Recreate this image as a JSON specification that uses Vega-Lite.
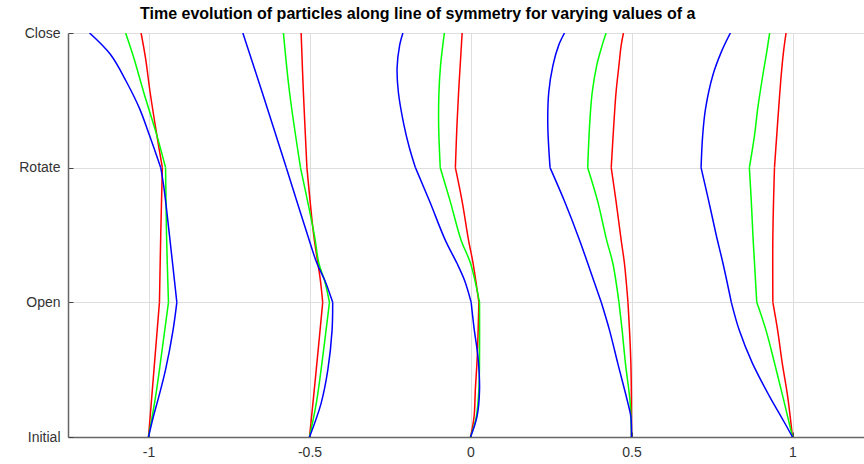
{
  "$schema": "https://vega.github.io/schema/vega-lite/v6.json",
  "autosize": "none",
  "width": 796,
  "height": 404,
  "padding": {"left": 68, "top": 33, "right": 0, "bottom": 27},
  "title": {"text": "Time evolution of particles along line of symmetry for varying values of a", "fontSize": 16, "font": "Liberation Sans", "fontWeight": "bold", "anchor": "start", "frame": "group", "dx": 72, "offset": 4, "color": "#000000"},
  "config": {"view": {"stroke": null}, "background": "white"},
  "data": {"values": [
    {"a": -1, "c": "r", "s": 1, "y": 0, "x": -1.0}, {"a": -1, "c": "r", "s": 1, "y": 0.5, "x": -0.983}, {"a": -1, "c": "r", "s": 1, "y": 1, "x": -0.966},
    {"a": -1, "c": "r", "s": 2, "y": 1, "x": -0.966}, {"a": -1, "c": "r", "s": 2, "y": 1.5, "x": -0.962}, {"a": -1, "c": "r", "s": 2, "y": 2, "x": -0.957},
    {"a": -1, "c": "r", "s": 3, "y": 2, "x": -0.957}, {"a": -1, "c": "r", "s": 3, "y": 2.24, "x": -0.974}, {"a": -1, "c": "r", "s": 3, "y": 2.56, "x": -0.995}, {"a": -1, "c": "r", "s": 3, "y": 2.81, "x": -1.009}, {"a": -1, "c": "r", "s": 3, "y": 3, "x": -1.023},
    {"a": -1, "c": "g", "s": 1, "y": 0, "x": -1.0}, {"a": -1, "c": "g", "s": 1, "y": 0.3, "x": -0.978}, {"a": -1, "c": "g", "s": 1, "y": 0.5, "x": -0.966}, {"a": -1, "c": "g", "s": 1, "y": 0.75, "x": -0.952}, {"a": -1, "c": "g", "s": 1, "y": 1, "x": -0.938},
    {"a": -1, "c": "g", "s": 2, "y": 1, "x": -0.938}, {"a": -1, "c": "g", "s": 2, "y": 1.5, "x": -0.944}, {"a": -1, "c": "g", "s": 2, "y": 2, "x": -0.947},
    {"a": -1, "c": "g", "s": 3, "y": 2, "x": -0.947}, {"a": -1, "c": "g", "s": 3, "y": 2.24, "x": -0.974}, {"a": -1, "c": "g", "s": 3, "y": 2.56, "x": -1.015}, {"a": -1, "c": "g", "s": 3, "y": 2.81, "x": -1.045}, {"a": -1, "c": "g", "s": 3, "y": 3, "x": -1.071},
    {"a": -1, "c": "b", "s": 1, "y": 0, "x": -1.0}, {"a": -1, "c": "b", "s": 1, "y": 0.15, "x": -0.985}, {"a": -1, "c": "b", "s": 1, "y": 0.3, "x": -0.968}, {"a": -1, "c": "b", "s": 1, "y": 0.5, "x": -0.947}, {"a": -1, "c": "b", "s": 1, "y": 0.79, "x": -0.924}, {"a": -1, "c": "b", "s": 1, "y": 1, "x": -0.912},
    {"a": -1, "c": "b", "s": 2, "y": 1, "x": -0.912}, {"a": -1, "c": "b", "s": 2, "y": 1.5, "x": -0.935}, {"a": -1, "c": "b", "s": 2, "y": 1.85, "x": -0.952}, {"a": -1, "c": "b", "s": 2, "y": 2, "x": -0.962},
    {"a": -1, "c": "b", "s": 3, "y": 2, "x": -0.962}, {"a": -1, "c": "b", "s": 3, "y": 2.24, "x": -0.997}, {"a": -1, "c": "b", "s": 3, "y": 2.44, "x": -1.028}, {"a": -1, "c": "b", "s": 3, "y": 2.64, "x": -1.069}, {"a": -1, "c": "b", "s": 3, "y": 2.84, "x": -1.118}, {"a": -1, "c": "b", "s": 3, "y": 3, "x": -1.183},
    {"a": -0.5, "c": "r", "s": 1, "y": 0, "x": -0.5}, {"a": -0.5, "c": "r", "s": 1, "y": 0.5, "x": -0.479}, {"a": -0.5, "c": "r", "s": 1, "y": 1, "x": -0.459},
    {"a": -0.5, "c": "r", "s": 2, "y": 1, "x": -0.459}, {"a": -0.5, "c": "r", "s": 2, "y": 1.16, "x": -0.466}, {"a": -0.5, "c": "r", "s": 2, "y": 1.29, "x": -0.474}, {"a": -0.5, "c": "r", "s": 2, "y": 1.5, "x": -0.487}, {"a": -0.5, "c": "r", "s": 2, "y": 2, "x": -0.508},
    {"a": -0.5, "c": "r", "s": 3, "y": 2, "x": -0.508}, {"a": -0.5, "c": "r", "s": 3, "y": 2.56, "x": -0.519}, {"a": -0.5, "c": "r", "s": 3, "y": 3, "x": -0.526},
    {"a": -0.5, "c": "g", "s": 1, "y": 0, "x": -0.5}, {"a": -0.5, "c": "g", "s": 1, "y": 0.25, "x": -0.479}, {"a": -0.5, "c": "g", "s": 1, "y": 0.5, "x": -0.464}, {"a": -0.5, "c": "g", "s": 1, "y": 1, "x": -0.438},
    {"a": -0.5, "c": "g", "s": 2, "y": 1, "x": -0.438}, {"a": -0.5, "c": "g", "s": 2, "y": 1.16, "x": -0.453}, {"a": -0.5, "c": "g", "s": 2, "y": 1.29, "x": -0.471}, {"a": -0.5, "c": "g", "s": 2, "y": 1.5, "x": -0.485}, {"a": -0.5, "c": "g", "s": 2, "y": 2, "x": -0.528},
    {"a": -0.5, "c": "g", "s": 3, "y": 2, "x": -0.528}, {"a": -0.5, "c": "g", "s": 3, "y": 2.56, "x": -0.562}, {"a": -0.5, "c": "g", "s": 3, "y": 3, "x": -0.581},
    {"a": -0.5, "c": "b", "s": 1, "y": 0, "x": -0.5}, {"a": -0.5, "c": "b", "s": 1, "y": 0.25, "x": -0.464}, {"a": -0.5, "c": "b", "s": 1, "y": 0.5, "x": -0.443}, {"a": -0.5, "c": "b", "s": 1, "y": 0.79, "x": -0.43}, {"a": -0.5, "c": "b", "s": 1, "y": 1, "x": -0.428},
    {"a": -0.5, "c": "b", "s": 2, "y": 1, "x": -0.428}, {"a": -0.5, "c": "b", "s": 2, "y": 1.16, "x": -0.452}, {"a": -0.5, "c": "b", "s": 2, "y": 1.29, "x": -0.477}, {"a": -0.5, "c": "b", "s": 2, "y": 1.5, "x": -0.506}, {"a": -0.5, "c": "b", "s": 2, "y": 2, "x": -0.572},
    {"a": -0.5, "c": "b", "s": 3, "y": 2, "x": -0.572}, {"a": -0.5, "c": "b", "s": 3, "y": 2.56, "x": -0.647}, {"a": -0.5, "c": "b", "s": 3, "y": 3, "x": -0.707},
    {"a": 0, "c": "r", "s": 1, "y": 0, "x": 0.0}, {"a": 0, "c": "r", "s": 1, "y": 0.15, "x": 0.011}, {"a": 0, "c": "r", "s": 1, "y": 0.35, "x": 0.015}, {"a": 0, "c": "r", "s": 1, "y": 0.6, "x": 0.021}, {"a": 0, "c": "r", "s": 1, "y": 1, "x": 0.026},
    {"a": 0, "c": "r", "s": 2, "y": 1, "x": 0.026}, {"a": 0, "c": "r", "s": 2, "y": 1.29, "x": 0.008}, {"a": 0, "c": "r", "s": 2, "y": 1.46, "x": -0.006}, {"a": 0, "c": "r", "s": 2, "y": 1.75, "x": -0.026}, {"a": 0, "c": "r", "s": 2, "y": 2, "x": -0.047},
    {"a": 0, "c": "r", "s": 3, "y": 2, "x": -0.047}, {"a": 0, "c": "r", "s": 3, "y": 2.32, "x": -0.042}, {"a": 0, "c": "r", "s": 3, "y": 2.56, "x": -0.037}, {"a": 0, "c": "r", "s": 3, "y": 2.76, "x": -0.032}, {"a": 0, "c": "r", "s": 3, "y": 3, "x": -0.026},
    {"a": 0, "c": "g", "s": 1, "y": 0, "x": 0.0}, {"a": 0, "c": "g", "s": 1, "y": 0.15, "x": 0.018}, {"a": 0, "c": "g", "s": 1, "y": 0.35, "x": 0.026}, {"a": 0, "c": "g", "s": 1, "y": 0.6, "x": 0.028}, {"a": 0, "c": "g", "s": 1, "y": 1, "x": 0.028},
    {"a": 0, "c": "g", "s": 2, "y": 1, "x": 0.028}, {"a": 0, "c": "g", "s": 2, "y": 1.29, "x": 0.0}, {"a": 0, "c": "g", "s": 2, "y": 1.46, "x": -0.029}, {"a": 0, "c": "g", "s": 2, "y": 1.75, "x": -0.063}, {"a": 0, "c": "g", "s": 2, "y": 2, "x": -0.094},
    {"a": 0, "c": "g", "s": 3, "y": 2, "x": -0.094}, {"a": 0, "c": "g", "s": 3, "y": 2.32, "x": -0.099}, {"a": 0, "c": "g", "s": 3, "y": 2.56, "x": -0.098}, {"a": 0, "c": "g", "s": 3, "y": 2.76, "x": -0.093}, {"a": 0, "c": "g", "s": 3, "y": 2.91, "x": -0.086}, {"a": 0, "c": "g", "s": 3, "y": 3, "x": -0.081},
    {"a": 0, "c": "b", "s": 1, "y": 0, "x": 0.0}, {"a": 0, "c": "b", "s": 1, "y": 0.15, "x": 0.02}, {"a": 0, "c": "b", "s": 1, "y": 0.35, "x": 0.028}, {"a": 0, "c": "b", "s": 1, "y": 0.6, "x": 0.023}, {"a": 0, "c": "b", "s": 1, "y": 0.79, "x": 0.012}, {"a": 0, "c": "b", "s": 1, "y": 1, "x": 0.002},
    {"a": 0, "c": "b", "s": 2, "y": 1, "x": 0.002}, {"a": 0, "c": "b", "s": 2, "y": 1.16, "x": -0.018}, {"a": 0, "c": "b", "s": 2, "y": 1.29, "x": -0.042}, {"a": 0, "c": "b", "s": 2, "y": 1.46, "x": -0.078}, {"a": 0, "c": "b", "s": 2, "y": 1.75, "x": -0.127}, {"a": 0, "c": "b", "s": 2, "y": 2, "x": -0.171},
    {"a": 0, "c": "b", "s": 3, "y": 2, "x": -0.171}, {"a": 0, "c": "b", "s": 3, "y": 2.15, "x": -0.19}, {"a": 0, "c": "b", "s": 3, "y": 2.32, "x": -0.207}, {"a": 0, "c": "b", "s": 3, "y": 2.56, "x": -0.224}, {"a": 0, "c": "b", "s": 3, "y": 2.74, "x": -0.228}, {"a": 0, "c": "b", "s": 3, "y": 2.91, "x": -0.22}, {"a": 0, "c": "b", "s": 3, "y": 3, "x": -0.21},
    {"a": 0.5, "c": "r", "s": 1, "y": 0, "x": 0.5}, {"a": 0.5, "c": "r", "s": 1, "y": 0.55, "x": 0.498}, {"a": 0.5, "c": "r", "s": 1, "y": 1, "x": 0.489},
    {"a": 0.5, "c": "r", "s": 2, "y": 1, "x": 0.489}, {"a": 0.5, "c": "r", "s": 2, "y": 1.29, "x": 0.478}, {"a": 0.5, "c": "r", "s": 2, "y": 1.46, "x": 0.468}, {"a": 0.5, "c": "r", "s": 2, "y": 1.75, "x": 0.452}, {"a": 0.5, "c": "r", "s": 2, "y": 2, "x": 0.437},
    {"a": 0.5, "c": "r", "s": 3, "y": 2, "x": 0.437}, {"a": 0.5, "c": "r", "s": 3, "y": 2.32, "x": 0.445}, {"a": 0.5, "c": "r", "s": 3, "y": 2.56, "x": 0.452}, {"a": 0.5, "c": "r", "s": 3, "y": 2.76, "x": 0.461}, {"a": 0.5, "c": "r", "s": 3, "y": 2.91, "x": 0.468}, {"a": 0.5, "c": "r", "s": 3, "y": 3, "x": 0.475},
    {"a": 0.5, "c": "g", "s": 1, "y": 0, "x": 0.5}, {"a": 0.5, "c": "g", "s": 1, "y": 0.25, "x": 0.496}, {"a": 0.5, "c": "g", "s": 1, "y": 0.55, "x": 0.481}, {"a": 0.5, "c": "g", "s": 1, "y": 0.79, "x": 0.471}, {"a": 0.5, "c": "g", "s": 1, "y": 1, "x": 0.461},
    {"a": 0.5, "c": "g", "s": 2, "y": 1, "x": 0.461}, {"a": 0.5, "c": "g", "s": 2, "y": 1.29, "x": 0.442}, {"a": 0.5, "c": "g", "s": 2, "y": 1.46, "x": 0.423}, {"a": 0.5, "c": "g", "s": 2, "y": 1.75, "x": 0.395}, {"a": 0.5, "c": "g", "s": 2, "y": 2, "x": 0.364},
    {"a": 0.5, "c": "g", "s": 3, "y": 2, "x": 0.364}, {"a": 0.5, "c": "g", "s": 3, "y": 2.32, "x": 0.37}, {"a": 0.5, "c": "g", "s": 3, "y": 2.56, "x": 0.378}, {"a": 0.5, "c": "g", "s": 3, "y": 2.76, "x": 0.392}, {"a": 0.5, "c": "g", "s": 3, "y": 2.91, "x": 0.409}, {"a": 0.5, "c": "g", "s": 3, "y": 3, "x": 0.421},
    {"a": 0.5, "c": "b", "s": 1, "y": 0, "x": 0.5}, {"a": 0.5, "c": "b", "s": 1, "y": 0.15, "x": 0.498}, {"a": 0.5, "c": "b", "s": 1, "y": 0.25, "x": 0.489}, {"a": 0.5, "c": "b", "s": 1, "y": 0.55, "x": 0.457}, {"a": 0.5, "c": "b", "s": 1, "y": 0.79, "x": 0.432}, {"a": 0.5, "c": "b", "s": 1, "y": 1, "x": 0.406},
    {"a": 0.5, "c": "b", "s": 2, "y": 1, "x": 0.406}, {"a": 0.5, "c": "b", "s": 2, "y": 1.29, "x": 0.364}, {"a": 0.5, "c": "b", "s": 2, "y": 1.46, "x": 0.339}, {"a": 0.5, "c": "b", "s": 2, "y": 1.75, "x": 0.292}, {"a": 0.5, "c": "b", "s": 2, "y": 2, "x": 0.247},
    {"a": 0.5, "c": "b", "s": 3, "y": 2, "x": 0.247}, {"a": 0.5, "c": "b", "s": 3, "y": 2.32, "x": 0.24}, {"a": 0.5, "c": "b", "s": 3, "y": 2.56, "x": 0.243}, {"a": 0.5, "c": "b", "s": 3, "y": 2.76, "x": 0.256}, {"a": 0.5, "c": "b", "s": 3, "y": 2.91, "x": 0.274}, {"a": 0.5, "c": "b", "s": 3, "y": 3, "x": 0.292},
    {"a": 1, "c": "r", "s": 1, "y": 0, "x": 1.0}, {"a": 1, "c": "r", "s": 1, "y": 0.3, "x": 0.985}, {"a": 1, "c": "r", "s": 1, "y": 0.55, "x": 0.968}, {"a": 1, "c": "r", "s": 1, "y": 0.79, "x": 0.954}, {"a": 1, "c": "r", "s": 1, "y": 1, "x": 0.939},
    {"a": 1, "c": "r", "s": 2, "y": 1, "x": 0.939}, {"a": 1, "c": "r", "s": 2, "y": 1.5, "x": 0.939}, {"a": 1, "c": "r", "s": 2, "y": 2, "x": 0.944},
    {"a": 1, "c": "r", "s": 3, "y": 2, "x": 0.944}, {"a": 1, "c": "r", "s": 3, "y": 2.24, "x": 0.951}, {"a": 1, "c": "r", "s": 3, "y": 2.44, "x": 0.957}, {"a": 1, "c": "r", "s": 3, "y": 2.69, "x": 0.965}, {"a": 1, "c": "r", "s": 3, "y": 2.86, "x": 0.972}, {"a": 1, "c": "r", "s": 3, "y": 3, "x": 0.98},
    {"a": 1, "c": "g", "s": 1, "y": 0, "x": 1.0}, {"a": 1, "c": "g", "s": 1, "y": 0.3, "x": 0.97}, {"a": 1, "c": "g", "s": 1, "y": 0.55, "x": 0.944}, {"a": 1, "c": "g", "s": 1, "y": 0.79, "x": 0.918}, {"a": 1, "c": "g", "s": 1, "y": 1, "x": 0.889},
    {"a": 1, "c": "g", "s": 2, "y": 1, "x": 0.889}, {"a": 1, "c": "g", "s": 2, "y": 1.29, "x": 0.882}, {"a": 1, "c": "g", "s": 2, "y": 1.5, "x": 0.877}, {"a": 1, "c": "g", "s": 2, "y": 1.75, "x": 0.872}, {"a": 1, "c": "g", "s": 2, "y": 2, "x": 0.866},
    {"a": 1, "c": "g", "s": 3, "y": 2, "x": 0.866}, {"a": 1, "c": "g", "s": 3, "y": 2.24, "x": 0.882}, {"a": 1, "c": "g", "s": 3, "y": 2.44, "x": 0.892}, {"a": 1, "c": "g", "s": 3, "y": 2.69, "x": 0.908}, {"a": 1, "c": "g", "s": 3, "y": 2.86, "x": 0.92}, {"a": 1, "c": "g", "s": 3, "y": 3, "x": 0.929},
    {"a": 1, "c": "b", "s": 1, "y": 0, "x": 1.0}, {"a": 1, "c": "b", "s": 1, "y": 0.15, "x": 0.965}, {"a": 1, "c": "b", "s": 1, "y": 0.3, "x": 0.929}, {"a": 1, "c": "b", "s": 1, "y": 0.55, "x": 0.875}, {"a": 1, "c": "b", "s": 1, "y": 0.79, "x": 0.835}, {"a": 1, "c": "b", "s": 1, "y": 1, "x": 0.81},
    {"a": 1, "c": "b", "s": 2, "y": 1, "x": 0.81}, {"a": 1, "c": "b", "s": 2, "y": 1.29, "x": 0.784}, {"a": 1, "c": "b", "s": 2, "y": 1.5, "x": 0.763}, {"a": 1, "c": "b", "s": 2, "y": 1.75, "x": 0.74}, {"a": 1, "c": "b", "s": 2, "y": 2, "x": 0.716},
    {"a": 1, "c": "b", "s": 3, "y": 2, "x": 0.716}, {"a": 1, "c": "b", "s": 3, "y": 2.24, "x": 0.721}, {"a": 1, "c": "b", "s": 3, "y": 2.44, "x": 0.73}, {"a": 1, "c": "b", "s": 3, "y": 2.69, "x": 0.753}, {"a": 1, "c": "b", "s": 3, "y": 2.86, "x": 0.779}, {"a": 1, "c": "b", "s": 3, "y": 3, "x": 0.807}
  ]},
  "mark": {"type": "line", "strokeWidth": 1.5, "clip": true, "interpolate": "catmull-rom"},
  "encoding": {
    "x": {"field": "x", "type": "quantitative", "scale": {"domain": [-1.25, 1.222], "nice": false, "zero": false},
      "axis": {"title": null, "values": [-1, -0.5, 0, 0.5, 1], "labelExpr": "'' + datum.value", "grid": true, "gridColor": "#dedede", "domainColor": "#666666", "domainWidth": 1.5, "tickSize": -5, "tickColor": "#444444", "labelFontSize": 14, "labelFont": "Liberation Sans", "labelColor": "#333333", "labelPadding": 13}},
    "y": {"field": "y", "type": "quantitative", "scale": {"domain": [0, 3], "nice": false, "zero": false},
      "axis": {"title": null, "values": [0, 1, 2, 3], "labelExpr": "['Initial','Open','Rotate','Close'][datum.value]", "grid": true, "gridColor": "#dedede", "domainColor": "#666666", "domainWidth": 1.5, "tickSize": -5, "tickColor": "#444444", "labelFontSize": 14, "labelFont": "Liberation Sans", "labelColor": "#333333", "labelPadding": 13}},
    "color": {"field": "c", "type": "nominal", "scale": {"domain": ["r", "g", "b"], "range": ["#ff0000", "#00ff00", "#0000ff"]}, "legend": null},
    "detail": [{"field": "a", "type": "nominal"}, {"field": "s", "type": "nominal"}],
    "order": {"field": "y", "type": "quantitative"}
  }
}
